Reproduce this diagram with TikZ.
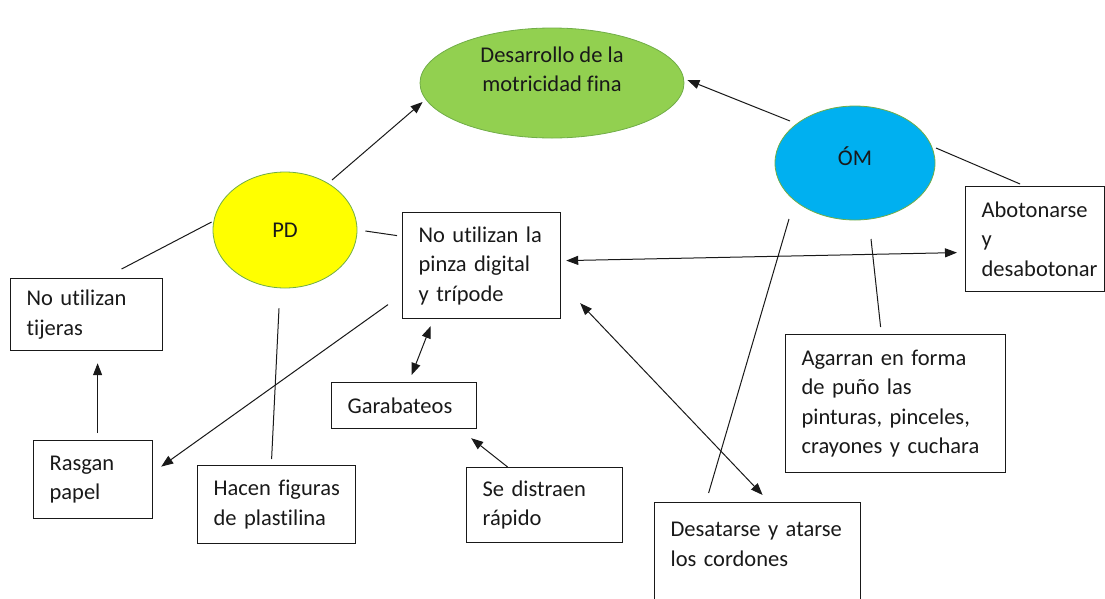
\documentclass[tikz,border=0pt]{standalone}
\usepackage{fontspec}
\setmainfont{Carlito}[Ligatures=NoCommon]
\usetikzlibrary{arrows.meta,shapes.geometric,calc}
\definecolor{ogreen}{RGB}{146,208,80}
\definecolor{oyellow}{RGB}{255,255,0}
\definecolor{oblue}{RGB}{0,176,240}
\definecolor{ebord}{RGB}{112,173,71}
\definecolor{ink}{RGB}{25,25,25}
\begin{document}
\begin{tikzpicture}[x=1pt,y=-1pt,
  every node/.style={font=\fontsize{22.5}{29.5}\selectfont, text=ink},
  bubble/.style={ellipse, draw=ebord, line width=0.8pt, inner sep=0pt},
  box/.style={rectangle, draw=ink, line width=1.2pt, align=left, inner xsep=16pt, inner ysep=0pt, anchor=north west},
  con/.style={draw=ink, line width=1pt},
  arrowend/.style={-{Triangle[length=12pt,width=9pt]}},
  arrowboth/.style={{Triangle[length=12pt,width=9pt]}-{Triangle[length=12pt,width=9pt]}}
]
\useasboundingbox (0,0) rectangle (1105,598);

% ellipses
\node[bubble, fill=ogreen, minimum width=264, minimum height=110] (green) at (552,83) {};
\node[align=center] (greenlbl) at (552,69.5) {Desarrollo de la\\motricidad fina};
\node[bubble, fill=oyellow, minimum width=144, minimum height=116] (pd) at (285,230) {PD};
\node[bubble, fill=oblue, minimum width=160, minimum height=114] (om) at (855,163) {};
\node (omlbl) at (855,156) {ÓM};

% boxes
\node[box, text width=126, minimum height=106] (pinza) at (402,212)
  {\mbox{No utilizan la}\\\mbox{pinza digital}\\\mbox{y trípode}};
\node[box, text width=120, minimum height=72] (tijeras) at (10,278)
  {\mbox{No utilizan}\\\mbox{tijeras}};
\node[box, text width=87, minimum height=78] (rasgan) at (33,440)
  {\mbox{Rasgan}\\\mbox{papel}};
\node[box, text width=126, minimum height=78] (hacen) at (197,465)
  {\mbox{Hacen figuras}\\\mbox{de plastilina}};
\node[box, text width=113, minimum height=46] (garab) at (331,382)
  {\mbox{Garabateos}};
\node[box, text width=124, minimum height=75] (distraen) at (466,467)
  {\mbox{Se distraen}\\\mbox{rápido}};
\node[box, text width=174, minimum height=113] (desat) at (654,502)
  {\mbox{Desatarse y atarse}\\\mbox{los cordones}\\\mbox{}};
\node[box, text width=188, minimum height=138] (agarran) at (785,334)
  {\mbox{Agarran en forma}\\\mbox{de puño las}\\\mbox{pinturas, pinceles,}\\\mbox{crayones y cuchara}};
\node[box, text width=107, minimum height=105] (abot) at (965,186)
  {\mbox{Abotonarse}\\\mbox{y}\\\mbox{desabotonar}};

% connectors
\draw[con, arrowend] ([shift={(47,-50)}]pd.center) -- ([shift={(3,19)}]green.west);
\draw[con, arrowend] ([shift={(-65,-42)}]om.center) -- ([shift={(3,-3)}]green.east);
\draw[con] ([shift={(81,-15)}]om.center) -- ([shift={(-15,-2)}]abot.north);
\draw[con] ([shift={(-66,56)}]om.center) -- ([shift={(-49,-9)}]desat.north);
\draw[con] ([shift={(16,76)}]om.center) -- ([shift={(-15,-7)}]agarran.north);
\draw[con, arrowboth] ([shift={(5,-5)}]pinza.east) -- ([shift={(-8,13.5)}]abot.west);
\draw[con, arrowboth] ([shift={(19,-16)}]pinza.south east) -- ([shift={(5,-7)}]desat.north);
\draw[con, arrowboth] ([shift={(-51,7)}]pinza.south) -- ([shift={(7.5,-7)}]garab.north);
\draw[con, arrowend] ([shift={(-37,0)}]distraen.north) -- ([shift={(-6,9)}]garab.south east);
\draw[con, arrowend] ([shift={(-14,39)}]pinza.west) -- ([shift={(8,-13)}]rasgan.east);
\draw[con, arrowend] ([shift={(4.5,-7)}]rasgan.north) -- ([shift={(11,12)}]tijeras.south);
\draw[con] ([shift={(35,-9)}]tijeras.north) -- ([shift={(-1,-8)}]pd.west);
\draw[con] ([shift={(8,1)}]pd.east) -- ([shift={(-5,-30)}]pinza.west);
\draw[con] ([shift={(-6,20)}]pd.south) -- ([shift={(-5,-6)}]hacen.north);
\end{tikzpicture}
\end{document}
